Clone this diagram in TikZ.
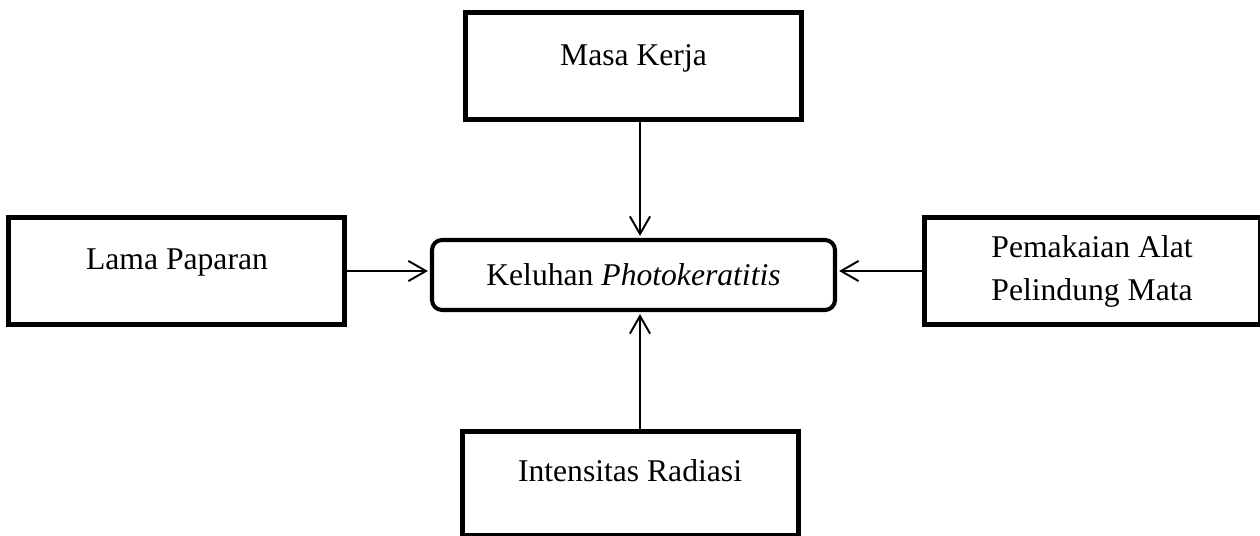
\documentclass[tikz,border=0pt]{standalone}
\usepackage{fontspec}
\setmainfont{Liberation Serif}
\usetikzlibrary{positioning, arrows.meta}

\tikzset{
  factorbox/.style={draw, line width=2.85pt, minimum width=6.72cm,
                    minimum height=2.14cm, align=center},
  factorone/.style={factorbox, text height=12pt, text depth=13.6pt},
  mainbox/.style={draw, line width=2.3pt, rounded corners=5.7pt,
                  minimum width=8.06cm, minimum height=1.4cm},
  arr/.style={-{Straight Barb[length=10pt, width=11.5pt]}, line width=1.1pt,
              shorten >=1.2pt},
}

\begin{document}
\begin{tikzpicture}[font=\fontsize{18}{24.5}\selectfont]
    \useasboundingbox (0,0) rectangle (25.2,-10.72);
    \node[mainbox] (kel) at (12.67,-5.5) {Keluhan \textit{Photokeratitis}};
    \node[factorone, above=2.31cm of kel] (masa) {Masa Kerja};
    \node[factorone, left=1.65cm of kel, yshift=0.08cm] (lama) {Lama Paparan};
    \node[factorbox, right=1.69cm of kel, yshift=0.08cm] (alat)
      {Pemakaian Alat\\Pelindung Mata};
    \node[factorone, below=2.33cm of kel, xshift=-0.07cm,
          minimum height=2.08cm] (radiasi) {Intensitas Radiasi};
    % vertical arrows sit a little right of the box centres
    \coordinate (vaxis) at ([xshift=0.13cm]kel.center);
    \draw[arr] (masa.south -| vaxis) -- (kel.north -| vaxis);
    \draw[arr] (radiasi.north -| vaxis) -- (kel.south -| vaxis);
    \draw[arr] (lama.east) -- (lama.east -| kel.west);
    \draw[arr] (alat.west) -- (alat.west -| kel.east);
\end{tikzpicture}
\end{document}
